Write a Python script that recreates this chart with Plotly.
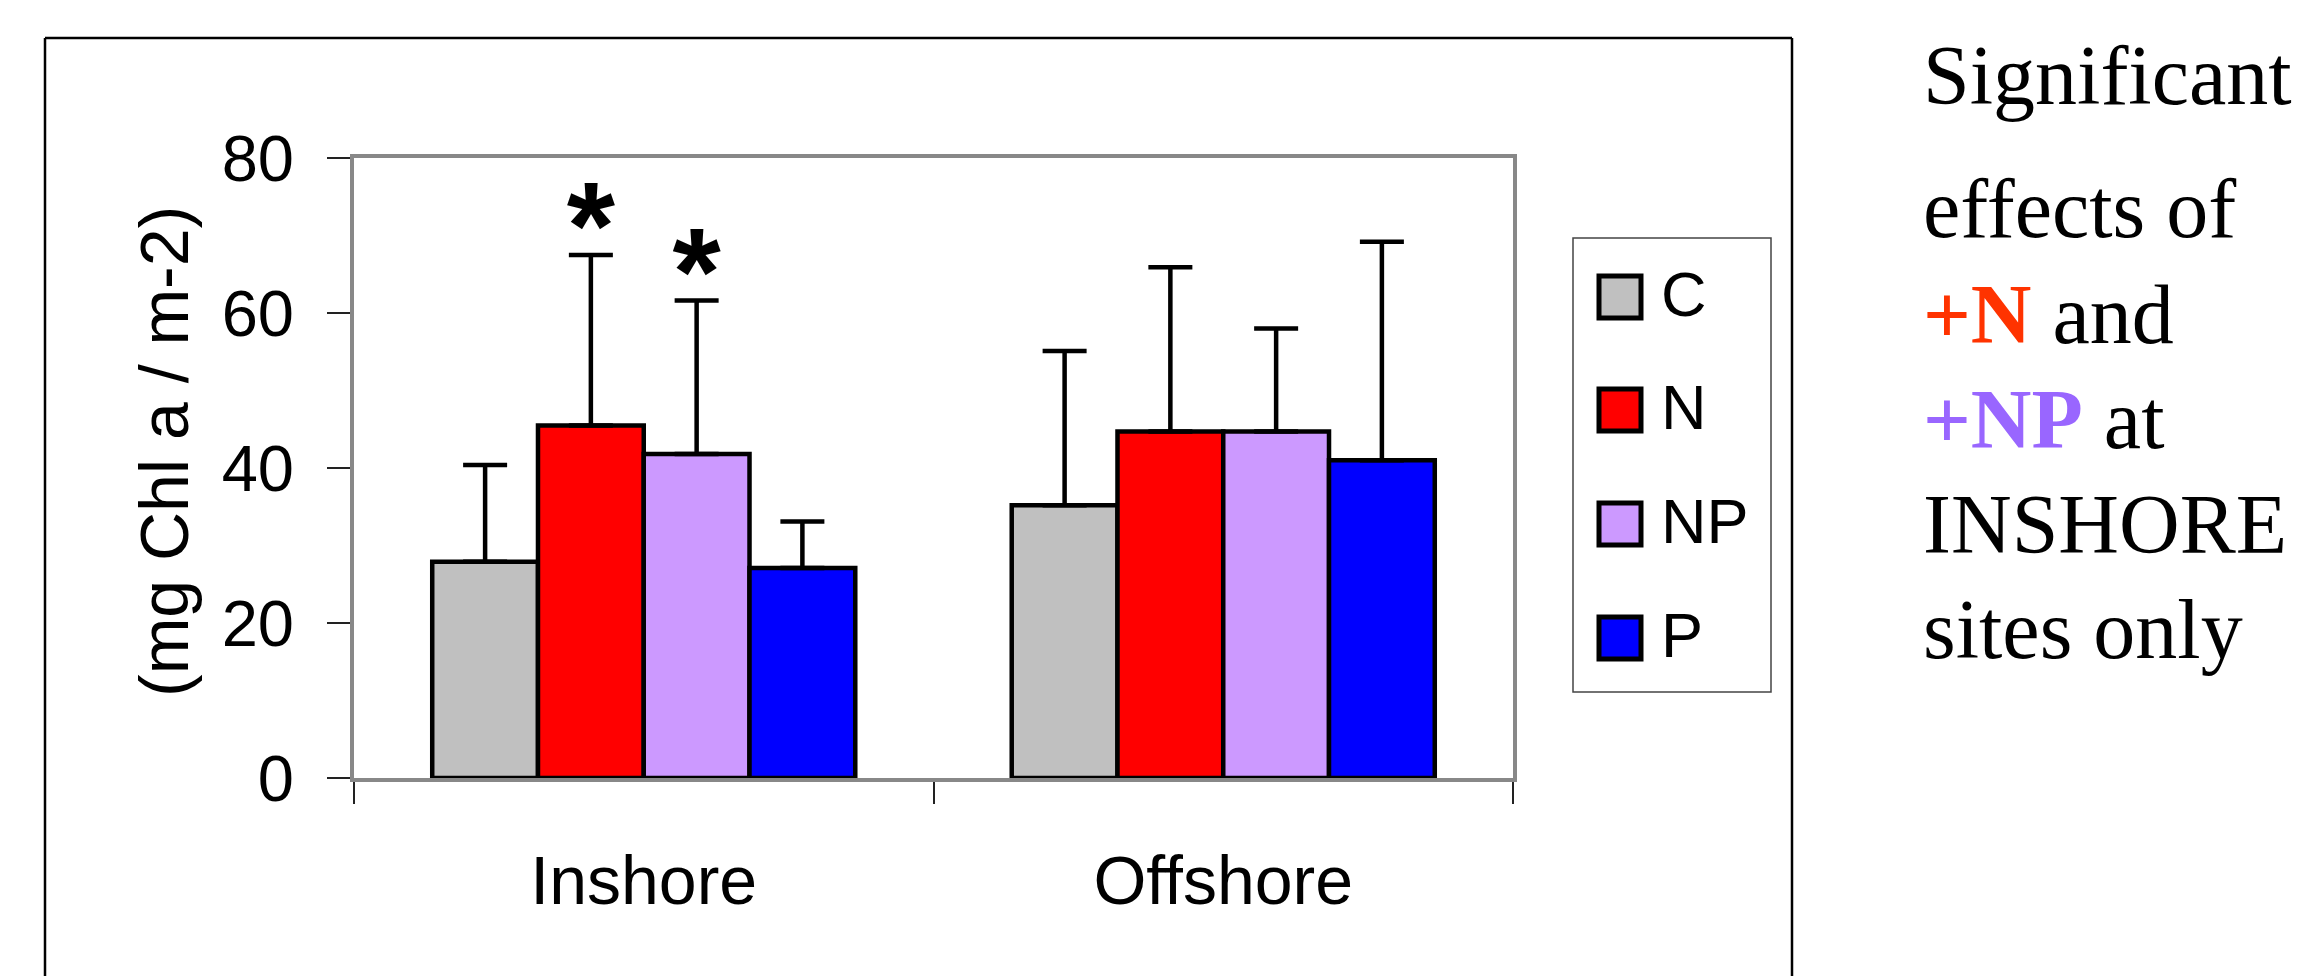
import plotly.graph_objects as go

# ---- data -------------------------------------------------------------
sites = ["Inshore", "Offshore"]
treatments = ["C", "N", "NP", "P"]

c_mean = [27.9, 35.2]
n_mean = [45.5, 44.7]
np_mean = [41.8, 44.7]
p_mean = [27.1, 41.0]

c_sd = [12.5, 19.9]
n_sd = [22.0, 21.2]
np_sd = [19.8, 13.3]
p_sd = [6.0, 28.2]

# significance markers (+N and +NP at inshore sites)
c_sig = ["", ""]
n_sig = ["*", ""]
np_sig = ["*", ""]
p_sig = ["", ""]

y_ticks = [0, 20, 40, 60, 80]

note_lines = [
    "Significant",
    "effects of",
    "<span style='color:#FF3300'><b>+N</b></span> and",
    "<span style='color:#9966FF'><b>+NP</b></span> at",
    "INSHORE",
    "sites only",
]

colors = {"C": "#C0C0C0", "N": "#FF0000", "NP": "#CC99FF", "P": "#0000FF"}
series = {
    "C": (c_mean, c_sd, c_sig),
    "N": (n_mean, n_sd, n_sig),
    "NP": (np_mean, np_sd, np_sig),
    "P": (p_mean, p_sd, p_sig),
}

# ---- page geometry (pixels) ------------------------------------------
W, H = 2305, 976
L, R, T, B = 354, 1513, 158, 778


def px(x):
    return (x - L) / (R - L)


def py(y):
    return (B - y) / (B - T)


SANS = "Liberation Sans, Arial, sans-serif"
SERIF = "Liberation Serif, Times New Roman, serif"
STAR_GAP = 2.2  # data units between error-bar cap and asterisk

fig = go.Figure()

for name in treatments:
    mean, sd, sig = series[name]
    fig.add_trace(go.Bar(
        x=sites, y=mean, name=name,
        offsetgroup=name, alignmentgroup="a",
        marker=dict(color=colors[name], line=dict(color="black", width=4.5)),
        error_y=dict(type="data", array=sd, arrayminus=[0] * len(sd),
                     symmetric=False, color="black", thickness=4.5, width=22),
        showlegend=False,
    ))

# asterisks above the significant bars
for name in treatments:
    mean, sd, sig = series[name]
    tops = [m + s + STAR_GAP for m, s in zip(mean, sd)]
    fig.add_trace(go.Scatter(
        x=sites, y=tops, text=sig, mode="text",
        offsetgroup=name, alignmentgroup="a",
        textposition="middle center", cliponaxis=False,
        textfont=dict(family=SANS, size=124, color="black", weight="bold"),
        showlegend=False, hoverinfo="skip",
    ))

shapes = []
# outer frame
for x0, y0, x1, y1 in [(45, 38, 1792, 38), (45, 38, 45, 990), (1792, 38, 1792, 990)]:
    shapes.append(dict(type="line", xref="paper", yref="paper",
                       x0=px(x0), y0=py(y0), x1=px(x1), y1=py(y1),
                       line=dict(color="black", width=2.5)))

# legend box
shapes.append(dict(type="rect", xref="paper", yref="paper",
                   x0=px(1573), y0=py(238), x1=px(1771), y1=py(692),
                   line=dict(color="#444444", width=1.5), fillcolor="white"))

annotations = []
legend_rows = [297, 410, 524, 638]
for name, yc in zip(treatments, legend_rows):
    shapes.append(dict(type="rect", xref="paper", yref="paper",
                       x0=px(1599), y0=py(yc - 21), x1=px(1641), y1=py(yc + 21),
                       line=dict(color="black", width=5), fillcolor=colors[name]))
    annotations.append(dict(xref="paper", yref="paper", x=px(1659), y=py(yc - 3),
                            xanchor="left", yanchor="middle", showarrow=False,
                            text=name, font=dict(family=SANS, size=63, color="black")))

# y-axis title
annotations.append(dict(xref="paper", yref="paper", x=px(164), y=py(452),
                        xanchor="center", yanchor="middle", showarrow=False,
                        textangle=-90, text="(mg Chl a / m-2)",
                        font=dict(family=SANS, size=68, color="black")))

# side note
note_centers = [76, 208, 314, 419, 524, 629]
for line, yc in zip(note_lines, note_centers):
    annotations.append(dict(xref="paper", yref="paper", x=px(1921), y=py(yc),
                            xanchor="left", yanchor="middle", showarrow=False,
                            text=line, font=dict(family=SERIF, size=84, color="black")))

fig.update_layout(
    width=W, height=H,
    margin=dict(l=L, r=W - R, t=T, b=H - B, pad=0),
    paper_bgcolor="white", plot_bgcolor="white",
    barmode="group", bargap=0.27, bargroupgap=0,
    scattermode="group",
    showlegend=False,
    shapes=shapes, annotations=annotations,
    font=dict(family=SANS, color="black"),
)

fig.update_xaxes(
    type="category",
    showline=True, linecolor="#888888", linewidth=4, mirror=True,
    ticks="outside", tickson="boundaries", ticklen=22, tickwidth=1.5, tickcolor="#222222",
    tickfont=dict(family=SANS, size=68, color="black"),
    ticklabelstandoff=40,
    showgrid=False, zeroline=False,
)
fig.update_yaxes(
    range=[0, 80], tickvals=y_ticks,
    showline=True, linecolor="#888888", linewidth=4, mirror=True,
    ticks="outside", ticklen=23, tickwidth=1.5, tickcolor="#222222",
    tickfont=dict(family=SANS, size=65, color="black"),
    ticklabelstandoff=20,
    showgrid=False, zeroline=False,
)

fig.write_html("out.html")
